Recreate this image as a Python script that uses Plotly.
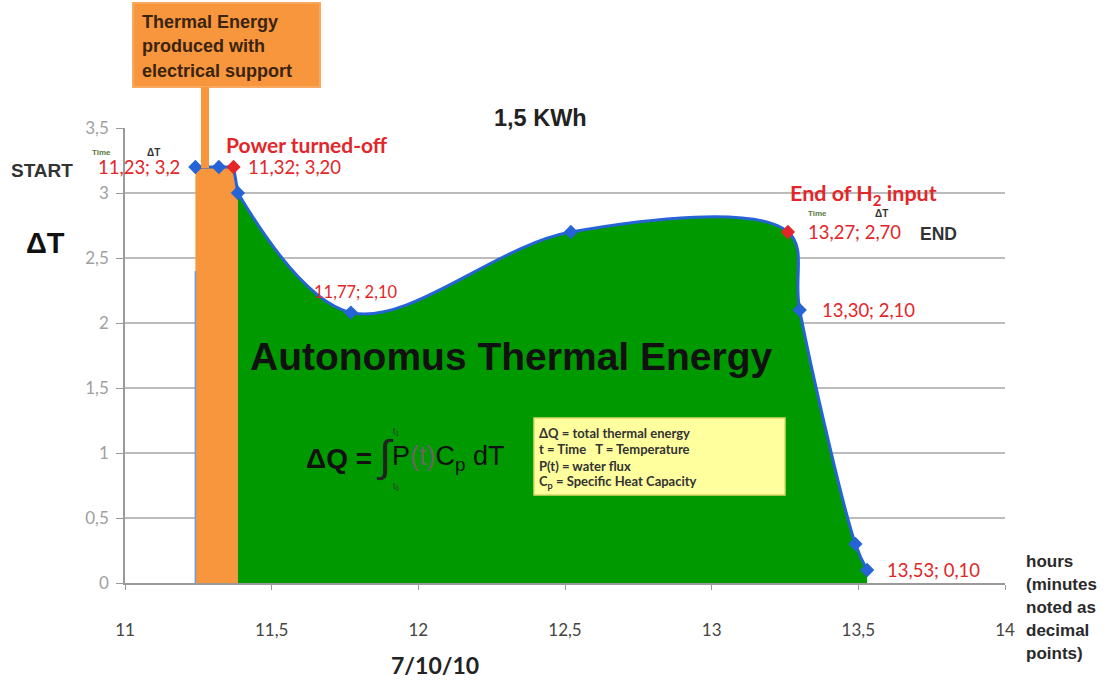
import plotly.graph_objects as go

# ---- data ----
time_h = [11.24, 11.32, 11.37, 11.385, 11.77, 12.52, 13.26, 13.30, 13.49, 13.53]
delta_t = [3.2, 3.2, 3.2, 3.0, 2.08, 2.7, 2.7, 2.1, 0.3, 0.1]
marker_kind = ["b", "b", "r", "b", "b", "b", "r", "b", "b", "b"]
x_ticks = [11, 11.5, 12, 12.5, 13, 13.5, 14]
y_ticks = [0, 0.5, 1, 1.5, 2, 2.5, 3, 3.5]
grid_levels = [0.5, 1, 1.5, 2, 2.5, 3]
point_labels = {0: "11,23; 3,2", 2: "11,32; 3,20", 4: "11,77; 2,10",
                6: "13,27; 2,70", 7: "13,30; 2,10", 9: "13,53; 0,10"}

ORANGE = "#F7963C"
GREEN = "#009A00"
BLUE = "#2563D6"
RED = "#E3262A"

# plot-area pixel frame (for paper-coordinate helpers)
L, R, T, B = 125, 1005, 128, 583
def px(x):
    return (x - L) / (R - L)
def py(y):
    return (B - y) / (B - T)

split = 3  # index where autonomous (green) part starts

fig = go.Figure()
fig.add_trace(go.Scatter(x=time_h[:split + 1], y=delta_t[:split + 1], mode="lines",
                         fill="tozeroy", fillcolor=ORANGE,
                         line=dict(color=BLUE, width=3), hoverinfo="skip"))
fig.add_trace(go.Scatter(x=time_h[split:], y=delta_t[split:], mode="lines",
                         fill="tozeroy", fillcolor=GREEN,
                         line=dict(color=BLUE, width=3, shape="spline", smoothing=1.0),
                         hoverinfo="skip"))
fig.add_trace(go.Scatter(x=time_h, y=delta_t, mode="markers",
                         marker=dict(symbol="diamond", size=11,
                                     color=[RED if k == "r" else BLUE for k in marker_kind]),
                         hoverinfo="skip"))

shapes = []
for g in grid_levels:
    shapes.append(dict(type="line", xref="x", yref="y", x0=x_ticks[0], x1=x_ticks[-1],
                       y0=g, y1=g, line=dict(color="#A6A6A6", width=1.5), layer="below"))
shapes.append(dict(type="line", xref="x", yref="y", x0=time_h[0], x1=time_h[0], y0=0, y1=2.4,
                   line=dict(color="#6A9BE0", width=1.5), layer="above"))
shapes.append(dict(type="rect", xref="paper", yref="paper", x0=px(133), x1=px(320),
                   y0=py(87), y1=py(3), fillcolor=ORANGE, line=dict(color="#F9A860", width=2)))
shapes.append(dict(type="rect", xref="paper", yref="paper", x0=px(201), x1=px(209),
                   y0=py(168), y1=py(87), fillcolor=ORANGE, line=dict(width=0)))
shapes.append(dict(type="rect", xref="paper", yref="paper", x0=px(534), x1=px(785),
                   y0=py(495), y1=py(418), fillcolor="#FFFF9E", line=dict(color="#D9D96A", width=1.5)))

ann = []
def text(x, y, s, size, color="#222", bold=False, xanchor="left", family="Liberation Sans"):
    if bold:
        s = "<b>" + s + "</b>"
    ann.append(dict(x=px(x), y=py(y), xref="paper", yref="paper", text=s, showarrow=False,
                    xanchor=xanchor, yanchor="middle", align="left",
                    font=dict(size=size, color=color, family=family)))

# data labels: (xshift, yshift, xanchor, size)
label_off = {0: (-13, 0, "right", 18.5), 2: (12, 0, "left", 18.5), 4: (5, 21, "center", 16.5),
             6: (18, 0, "left", 18.5), 7: (20, 0, "left", 18.5), 9: (18, 0, "left", 18.5)}
for i, s in point_labels.items():
    dx, dy, xa, sz = label_off[i]
    ann.append(dict(x=time_h[i], y=delta_t[i], xref="x", yref="y", text=s, showarrow=False,
                    xanchor=xa, yanchor="middle", xshift=dx, yshift=dy,
                    font=dict(size=sz, color=RED, family="Lato")))

for k, s in enumerate(["Thermal Energy", "produced with", "electrical support"]):
    text(140, 22 + 24.5 * k, s, 18, "#3a2410", True)
text(540, 118, "1,5 KWh", 23.5, "#222", True, "center")
text(45, 243, "ΔT", 29, "#111", True, "center")
text(435, 665, "7/10/10", 23, "#222", True, "center", family="Lato")
text(9, 170, "START", 19, "#333", True)
text(918, 234, "END", 17.5, "#333", True)
text(90, 152, "Time", 8, "#5a7a3a", True)
text(145, 152, "ΔT", 10, "#333", True)
text(806, 213, "Time", 8, "#5a7a3a", True)
text(873, 213, "ΔT", 10, "#333", True)
text(224, 144, "Power turned-off", 21, RED, True, family="Lato")
text(788, 194, "End of H<sub>2</sub> input", 21.5, RED, True, family="Lato")
text(511, 356, "Autonomus Thermal Energy", 39, "#111", True, "center")
# formula
text(374, 458, "ΔQ =", 28, "#111", True, "right")
text(374, 456, "∫", 44, "#222", False)
text(391, 431, "t<sub>1</sub>", 9, "#333", False)
text(391, 486, "t<sub>0</sub>", 9, "#333", False)
text(390, 458, "P<span style='color:#666'>(t)</span>C<sub>p</sub> dT", 27, "#111", False)
for k, s in enumerate(["ΔQ = total thermal energy", "t = Time   T = Temperature",
                       "P(t) = water flux", "C<sub>p</sub> = Specific Heat Capacity"]):
    text(537, 433 + 16.3 * k, s, 13, "#333", True, family="Lato")
for k, s in enumerate(["hours", "(minutes", "noted as", "decimal", "points)"]):
    text(1024, 561 + 23 * k, s, 17, "#2a2a2a", True)

fig.update_layout(
    width=1108, height=688, margin=dict(l=L, r=1108 - R, t=T, b=688 - B),
    paper_bgcolor="white", plot_bgcolor="white", showlegend=False,
    separators=",.", shapes=shapes, annotations=ann,
    font=dict(family="Lato"),
)
fig.update_xaxes(range=[x_ticks[0], x_ticks[-1]], tickvals=x_ticks, showgrid=False,
                 zeroline=False, showline=True, linecolor="#9a9a9a", linewidth=1.5,
                 ticks="outside", ticklen=5, tickcolor="#9a9a9a",
                 tickfont=dict(size=17, color="#444", family="Lato"), ticklabelstandoff=26)
fig.update_yaxes(range=[y_ticks[0], y_ticks[-1]], tickvals=y_ticks, showgrid=False,
                 zeroline=False, showline=True, linecolor="#9a9a9a", linewidth=1.5,
                 ticks="outside", ticklen=7, tickcolor="#9a9a9a",
                 tickfont=dict(size=17, color="#a0a0a0", family="Lato"), ticklabelstandoff=4)

fig.write_html("out.html", config={"displayModeBar": False},
               post_script="document.body.style.margin='0px';")
